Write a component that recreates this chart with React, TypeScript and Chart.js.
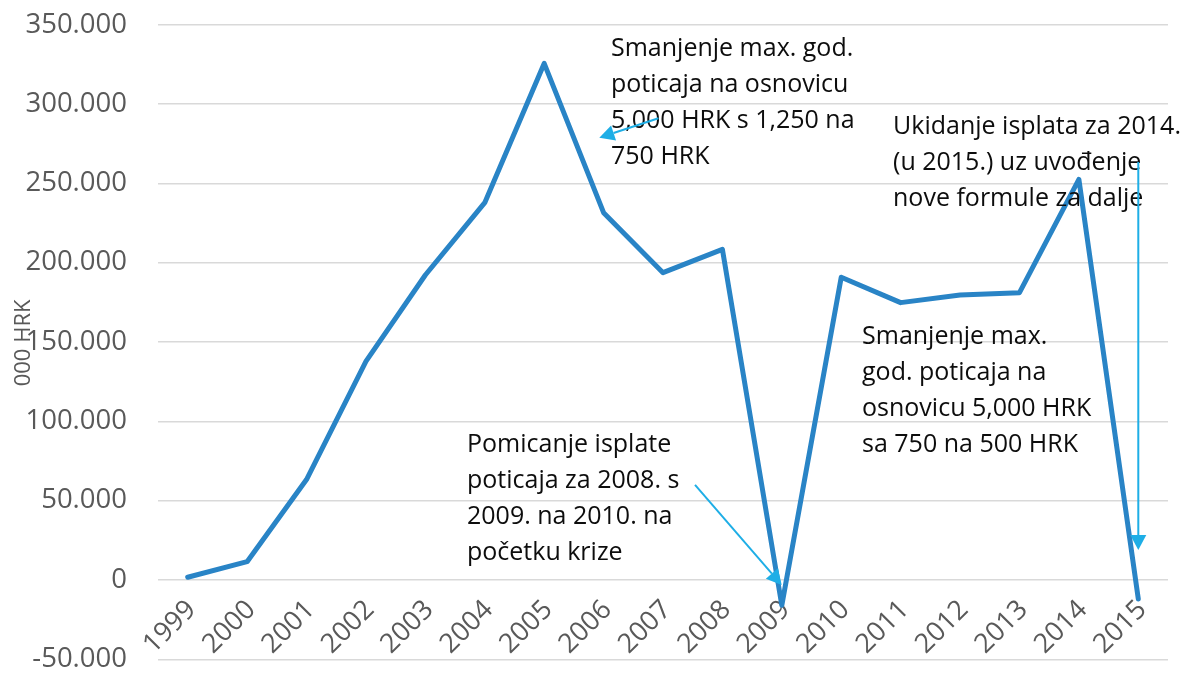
import React, { useEffect, useRef } from 'react';
import { Chart, registerables } from 'chart.js';

Chart.register(...registerables);

// ---- data ----
const years = ['1999', '2000', '2001', '2002', '2003', '2004', '2005', '2006', '2007', '2008', '2009', '2010', '2011', '2012', '2013', '2014', '2015'];
const payouts = [1700, 11500, 63300, 137800, 192200, 237800, 325600, 231500, 193700, 208400, -16000, 190800, 174800, 179600, 181100, 252500, -12000];
const yMin = -50000;
const yMax = 350000;
const yStep = 50000;
const yAxisTitle = '000 HRK';

// annotation anchors in data space: x = category index, y = value (first text baseline)
const noteLines1 = ['Smanjenje max. god.', 'poticaja na osnovicu', '5,000 HRK s 1,250 na', '750 HRK'];
const noteLines2 = ['Ukidanje isplata za 2014.', '(u 2015.) uz uvođenje', 'nove formule za dalje'];
const noteLines3 = ['Smanjenje max.', 'god. poticaja na', 'osnovicu 5,000 HRK', 'sa 750 na 500 HRK'];
const noteLines4 = ['Pomicanje isplate', 'poticaja za 2008. s', '2009. na 2010. na', 'početku krize'];
const noteAnchors = [
  { lines: noteLines1, x: 7.125, y: 330500 },
  { lines: noteLines2, x: 11.872, y: 280800 },
  { lines: noteLines3, x: 11.35, y: 148800 },
  { lines: noteLines4, x: 4.701, y: 80900 },
];
const arrowFromX = [7.924, 8.539, 16.0];
const arrowFromY = [291000, 59900, 263500];
const arrowToX = [6.928, 9.998, 16.0];
const arrowToY = [278800, -3150, 18900];

const fmt = (v: number) => {
  const s = Math.abs(v).toString().replace(/\B(?=(\d{3})+(?!\d))/g, '.');
  return (v < 0 ? '-' : '') + s;
};

const annotationPlugin = {
  id: 'notes',
  afterDraw(chart: any) {
    const { ctx, scales } = chart;
    const xs = scales.x;
    const ys = scales.y;
    ctx.save();
    // axis title
    ctx.save();
    ctx.translate(24, ys.getPixelForValue(149400));
    ctx.rotate(-Math.PI / 2);
    ctx.font = '22px "Open Sans"';
    ctx.fillStyle = '#595959';
    ctx.textAlign = 'center';
    ctx.textBaseline = 'middle';
    ctx.fillText(yAxisTitle, 0, 0);
    ctx.restore();

    // notes
    ctx.font = '25px "Open Sans"';
    ctx.fillStyle = '#0d0d0d';
    ctx.textAlign = 'left';
    ctx.textBaseline = 'alphabetic';
    noteAnchors.forEach((n) => {
      const px = xs.getPixelForValue(n.x);
      const py = ys.getPixelForValue(n.y);
      n.lines.forEach((l, i) => ctx.fillText(l, px, py + i * 36));
    });

    // arrows
    ctx.strokeStyle = '#1eaee6';
    ctx.fillStyle = '#1eaee6';
    ctx.lineWidth = 2;
    for (let i = 0; i < arrowFromX.length; i++) {
      const x1 = xs.getPixelForValue(arrowFromX[i]);
      const y1 = ys.getPixelForValue(arrowFromY[i]);
      const x2 = xs.getPixelForValue(arrowToX[i]);
      const y2 = ys.getPixelForValue(arrowToY[i]);
      const ang = Math.atan2(y2 - y1, x2 - x1);
      const hl = 15;
      const hw = 8;
      const bx = x2 - hl * Math.cos(ang);
      const by = y2 - hl * Math.sin(ang);
      ctx.beginPath();
      ctx.moveTo(x1, y1);
      ctx.lineTo(bx, by);
      ctx.stroke();
      ctx.beginPath();
      ctx.moveTo(x2, y2);
      ctx.lineTo(bx + hw * Math.sin(ang), by - hw * Math.cos(ang));
      ctx.lineTo(bx - hw * Math.sin(ang), by + hw * Math.cos(ang));
      ctx.closePath();
      ctx.fill();
    }
    ctx.restore();
  },
};

export default function App() {
  const ref = useRef<HTMLCanvasElement | null>(null);
  useEffect(() => {
    if (!ref.current) return;
    const chart = new Chart(ref.current, {
      type: 'line',
      data: {
        labels: years,
        datasets: [
          {
            data: payouts,
            borderColor: '#2984c6',
            borderWidth: 5,
            pointRadius: 0,
            tension: 0,
            fill: false,
            borderJoinStyle: 'round',
            borderCapStyle: 'round',
          },
        ],
      },
      options: {
        animation: false,
        responsive: true,
        maintainAspectRatio: false,
        layout: { padding: { top: 24.7, right: 21, bottom: 13.7, left: 0 } },
        plugins: { legend: { display: false }, tooltip: { enabled: false } },
        scales: {
          x: {
            type: 'category',
            offset: true,
            position: { y: 0 } as any,
            grid: { display: false, drawTicks: true, tickLength: 14 },
            border: { display: false },
            ticks: {
              autoSkip: false,
              minRotation: 45,
              maxRotation: 45,
              padding: 0,
              labelOffset: 4,
              color: '#595959',
              font: { family: '"Open Sans"', size: 27 },
            },
          },
          y: {
            min: yMin,
            max: yMax,
            grid: { color: '#d9d9d9', lineWidth: 1.5, drawTicks: true, tickLength: 31, tickColor: 'rgba(0,0,0,0)' },
            border: { display: false },
            afterFit: (s: any) => {
              s.width = 158;
            },
            ticks: {
              stepSize: yStep,
              padding: 0,
              color: '#595959',
              font: { family: '"Open Sans"', size: 27.5, lineHeight: 1 },
              callback: (v: any) => fmt(Number(v)),
            },
          },
        },
      },
      plugins: [annotationPlugin],
    });
    return () => chart.destroy();
  }, []);
  return (
    <div style={{ position: 'absolute', left: 0, top: 0, width: 1189, height: 673, background: '#fff' }}>
      <canvas ref={ref} />
    </div>
  );
}
